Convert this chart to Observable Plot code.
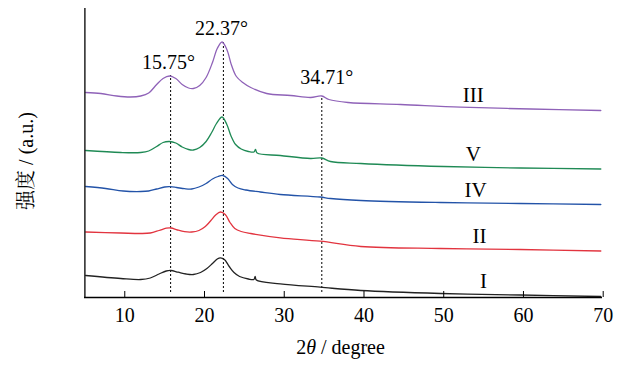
<!DOCTYPE html>
<html>
<head>
<meta charset="utf-8">
<script src="https://cdn.jsdelivr.net/npm/d3@7"></script>
<script src="https://cdn.jsdelivr.net/npm/@observablehq/plot@0.6"></script>
<style>
  html, body { margin: 0; padding: 0; background: #fff; }
  svg { display: block; }
  svg text, svg g { font-family: "Liberation Serif", "Times New Roman", Times, "DejaVu Serif", "Noto Serif CJK SC", "Noto Sans CJK SC", serif !important; }
</style>
</head>
<body>
<div id="chart"></div>
<script>
// ---- data (2θ in degrees, intensity in a.u., offset stacked) ----
const xTicks = [10, 20, 30, 40, 50, 60, 70];
const sampleNames = ["III", "V", "IV", "II", "I"];
const sampleColors = ["#8f62b8", "#1f8a55", "#2353a8", "#e2343f", "#222222"];
const labelTheta = [53.7, 53.7, 54.0, 54.5, 55.0];

const seriesIII = [[5.1,205],[7.0,204],[9.0,201.5],[10.7,200.5],[12.0,201.5],[13.0,204.5],[14.0,213],[14.8,219],[15.6,221.5],[16.4,219],[17.2,213],[18.0,209.5],[18.6,209],[19.4,212],[20.2,220],[21.0,235],[21.6,249],[22.2,255.5],[22.8,248],[23.4,232],[24.0,221],[24.8,215],[25.8,210],[27.8,204],[30.8,202],[33.3,200],[34.7,201.5],[35.6,198],[38.0,195],[44.6,193],[52.1,190.3],[60.9,188.5],[69.7,187]];
const seriesV = [[5.1,147],[9.5,145],[12.0,145],[13.0,146.5],[14.0,151],[14.8,155],[15.6,156],[16.4,154.5],[17.2,150.5],[18.0,148],[18.6,147.5],[19.4,150],[20.2,156],[20.9,165],[21.5,174],[22.2,180.5],[22.8,173],[23.3,162],[23.9,153],[24.6,148.5],[25.5,146],[26.2,145.5],[26.4,148],[26.6,144.5],[29.5,142],[33.3,139],[34.7,139.5],[35.8,136],[39.6,134],[50.0,131],[59.6,129.5],[69.7,128.5]];
const seriesIV = [[5.1,111],[7.6,109],[9.8,106.5],[12.0,106],[13.0,106.5],[14.0,108.5],[15.0,110.5],[15.7,110.8],[16.5,110],[17.5,108.8],[18.4,108.5],[19.3,110.5],[20.2,114],[21.0,118.5],[21.7,121],[22.3,122],[22.9,119],[23.5,113],[24.2,109.5],[25.2,107.5],[27.0,105.5],[29.5,103],[34.5,100.5],[35.8,99],[39.6,97],[49.6,95],[59.6,94],[69.7,93]];
const seriesII = [[5.1,65.5],[9.5,64.5],[12.0,64],[13.2,64.5],[14.3,67],[15.2,69.3],[15.8,69.5],[16.6,67.5],[17.5,65.8],[18.4,65.5],[19.3,67],[20.1,71],[20.8,77],[21.4,82.5],[22.0,85.5],[22.6,83],[23.2,75],[23.8,69],[24.6,66],[25.8,64],[29.5,59.7],[34.5,56.3],[39.6,51],[49.6,49],[59.6,48],[69.7,46.5]];
const seriesI = [[5.1,22],[9.5,19],[12.0,18],[13.2,19.5],[14.3,23.5],[15.2,26.5],[15.8,27],[16.7,25.3],[17.7,23.5],[18.6,23],[19.5,25],[20.3,29],[21.0,34],[21.6,38.5],[22.0,39.7],[22.5,38],[23.1,31],[23.7,25],[24.4,21],[25.5,18.5],[26.2,18],[26.35,21],[26.5,17.5],[29.5,13.7],[34.5,10.3],[39.6,7],[49.6,4],[59.6,2.5],[69.7,1]];
const allSeries = [seriesIII, seriesV, seriesIV, seriesII, seriesI];

const peakPositions = [15.75, 22.37, 34.71];
const peakLabels = ["15.75°", "22.37°", "34.71°"];
const peakTops = [222, 256, 201];
const dropBottom = 5;

// ---- build tables ----
const lineData = allSeries.flatMap((s, i) => s.map(([t, v]) => ({t, v, name: sampleNames[i]})));
function interp(s, t) {
  for (let k = 1; k < s.length; k++) {
    if (s[k][0] >= t) {
      const [t0, v0] = s[k - 1], [t1, v1] = s[k];
      return v0 + (v1 - v0) * (t - t0) / (t1 - t0);
    }
  }
  return s[s.length - 1][1];
}
const nameLabels = sampleNames.map((n, i) => ({n, t: labelTheta[i], v: interp(allSeries[i], labelTheta[i])}));
const peaks = peakPositions.map((p, i) => ({p, top: peakTops[i], label: peakLabels[i]}));

const font = "'Liberation Serif', 'Times New Roman', Times, serif";

const plot = Plot.plot({
  width: 621,
  height: 366,
  marginLeft: 84,
  marginRight: 19,
  marginTop: 8,
  marginBottom: 69,
  style: {fontFamily: font, fontSize: "20px", color: "#000", background: "#fff"},
  x: {domain: [5, 70], range: [84.4, 602.7]},
  y: {domain: [0, 289], axis: null},
  color: {domain: sampleNames, range: sampleColors},
  marks: [
    Plot.ruleX(peaks, {x: "p", y1: dropBottom, y2: "top", stroke: "#000", strokeWidth: 1, strokeDasharray: "2,2"}),
    Plot.line(lineData, {x: "t", y: "v", z: "name", stroke: "name", strokeWidth: 1.3, curve: "catmull-rom"}),
    Plot.text(peaks.slice(0, 2), {x: "p", y: "top", text: "label", lineAnchor: "bottom", dy: -7, dx: -2, fontSize: 20}),
    Plot.text(peaks.slice(2), {x: "p", y: "top", text: "label", lineAnchor: "bottom", dy: -13, dx: 5, fontSize: 20}),
    Plot.text(nameLabels, {x: "t", y: "v", text: "n", lineAnchor: "bottom", dy: -6, fontSize: 21}),
    Plot.axisX({ticks: xTicks, tickSize: -6, tickPadding: 16, tickFormat: d => String(d), fontSize: 20, label: null}),
    Plot.ruleY([0], {stroke: "#000", strokeWidth: 1.3}),
    Plot.ruleX([5], {stroke: "#000", strokeWidth: 1.3}),
    Plot.text(["2θ / degree"], {frameAnchor: "bottom", lineAnchor: "bottom", textAnchor: "middle", dy: 56, dx: -3, fontSize: 20}),
    Plot.text(["强度 / (a.u.)"], {frameAnchor: "left", textAnchor: "middle", lineAnchor: "middle", dx: -58, dy: 8, rotate: -90, fontSize: 20})
  ]
});
document.getElementById("chart").appendChild(plot);

// italic theta in the x title
d3.select(plot).selectAll("text").each(function() {
  const el = d3.select(this);
  if (el.text() === "2θ / degree") {
    el.text(null);
    el.append("tspan").text("2");
    el.append("tspan").attr("font-style", "italic").text("θ");
    el.append("tspan").text(" / degree");
  }
});
</script>
</body>
</html>
